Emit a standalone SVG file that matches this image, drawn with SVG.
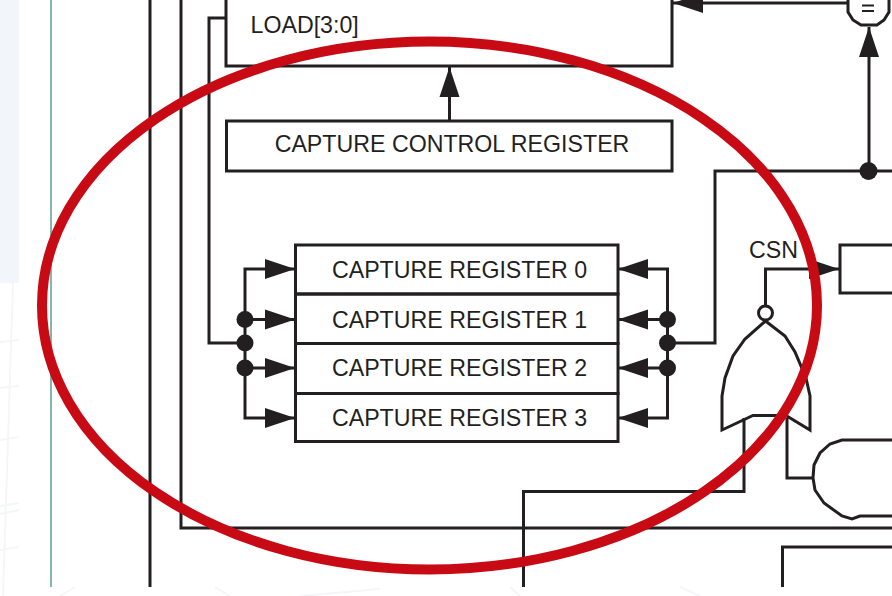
<svg xmlns="http://www.w3.org/2000/svg" width="892" height="596" viewBox="0 0 892 596">
<style>
.w{fill:none;stroke:#231f20;stroke-width:3;stroke-linejoin:miter}
.b{fill:#fff;stroke:#231f20;stroke-width:3}
.e{fill:none;stroke:#231f20;stroke-width:2}
.t{font-family:"Liberation Sans",Arial,sans-serif;font-size:23.2px;fill:#231f20}
.d{fill:#231f20;stroke:none}
.g{fill:none;stroke:#f5f6f9;stroke-width:2}
</style>
<defs>
<marker id="a" markerUnits="userSpaceOnUse" markerWidth="30" markerHeight="22" refX="30" refY="11" orient="auto"><path d="M0 1L30 11L0 21Z" fill="#231f20"/></marker>
</defs>
<rect width="892" height="596" fill="#fff"/>
<g id="background">
<rect x="0" y="0" width="19" height="283" fill="#f2f5fa"/>
<path class="g" d="M0 342L19 340M0 388L19 386M0 440L19 437M0 506L19 503M0 550L19 547M0 514L19 510M13 283L3 596M60 596L75 587M230 596L215 587M300 596L380 589M520 596L510 587M700 596L680 587"/>
<path d="M51 0V587" fill="none" stroke="#5f9c90" stroke-width="1.5"/>
</g>
<g id="connectors">
<path class="w" d="M150 0V587"/>
<path class="w" d="M181 0V528H892"/>
<path class="w" d="M226 18H209V343H245"/>
<path class="w" d="M449.500 121V67" marker-end="url(#a)"/>
<path class="w" d="M245 319.500V269H295" marker-end="url(#a)"/>
<path class="w" d="M245 319.500H295" marker-end="url(#a)"/>
<path class="w" d="M245 319V368H295" marker-end="url(#a)"/>
<path class="w" d="M245 368V418H295" marker-end="url(#a)"/>
<path class="w" d="M667.500 319.500V269H618" marker-end="url(#a)"/>
<path class="w" d="M667.500 319.500H618" marker-end="url(#a)"/>
<path class="w" d="M667.500 319V368H618" marker-end="url(#a)"/>
<path class="w" d="M667.500 368V418H618" marker-end="url(#a)"/>
<path class="w" d="M667.500 343H715V171H892"/>
<path class="w" d="M869 171V27" marker-end="url(#a)"/>
<path class="w" d="M848 3H673" marker-end="url(#a)"/>
<path class="w" d="M765.500 306V269H839" marker-end="url(#a)"/>
<path class="w" d="M744 418V491.500H523.500V587"/>
<path class="w" d="M787 418V478H813"/>
<circle class="d" cx="245" cy="319.500" r="8.500"/><circle class="d" cx="245" cy="343" r="8.500"/><circle class="d" cx="245" cy="368" r="8.500"/>
<circle class="d" cx="667.500" cy="319.500" r="8.500"/><circle class="d" cx="667.500" cy="343" r="8.500"/><circle class="d" cx="667.500" cy="368" r="8.500"/>
<circle class="d" cx="868.500" cy="171" r="9"/>
</g>
<g id="load-block">
<path class="w" d="M226 0V66H672V0"/>
<text class="t" x="250.500" y="33">LOAD[3:0]</text>
</g>
<g id="capture-control-register">
<rect class="w" x="226.500" y="121" width="445.500" height="50"/>
<text class="t" x="452" y="152" text-anchor="middle">CAPTURE CONTROL REGISTER</text>
</g>
<g id="capture-register-0"><rect class="w" x="295.500" y="245" width="322.500" height="49"/><text class="t" x="459.500" y="278" text-anchor="middle">CAPTURE REGISTER 0</text></g>
<g id="capture-register-1"><rect class="w" x="295.500" y="294" width="322.500" height="49.500"/><text class="t" x="459.500" y="328" text-anchor="middle">CAPTURE REGISTER 1</text></g>
<g id="capture-register-2"><rect class="w" x="295.500" y="343.500" width="322.500" height="50"/><text class="t" x="459.500" y="376" text-anchor="middle">CAPTURE REGISTER 2</text></g>
<g id="capture-register-3"><rect class="w" x="295.500" y="393.500" width="322.500" height="48"/><text class="t" x="459.500" y="426" text-anchor="middle">CAPTURE REGISTER 3</text></g>
<g id="comparator">
<path class="w" d="M848 0V12L853 20L861 25H877L884 20L889 12V0"/>
<path class="e" d="M862 5.500H874M862 11H874"/>
</g>
<g id="csn-label"><text class="t" x="749" y="258">CSN</text></g>
<g id="csn-register"><path class="w" d="M892 245H840V293H892"/></g>
<g id="nor-gate">
<circle class="b" cx="765.500" cy="313" r="7"/>
<path class="w" d="M765.500 321L745 339L733 356L725 378L722 396V430L753 415.500H786L810 430V396L806 378L795 352L785 336Z"/>
</g>
<g id="and-gate"><path class="w" d="M892 440H842L830 444L820 453L814 465L813 478L815 490L824 503L842 516L852 519L860 516H892"/></g>
<g id="lower-block"><path class="w" d="M892 547H782.500V587"/></g>
<ellipse id="highlight" cx="429.500" cy="305.500" rx="387.500" ry="264" fill="none" stroke="#c80a14" stroke-width="10"/>
</svg>
